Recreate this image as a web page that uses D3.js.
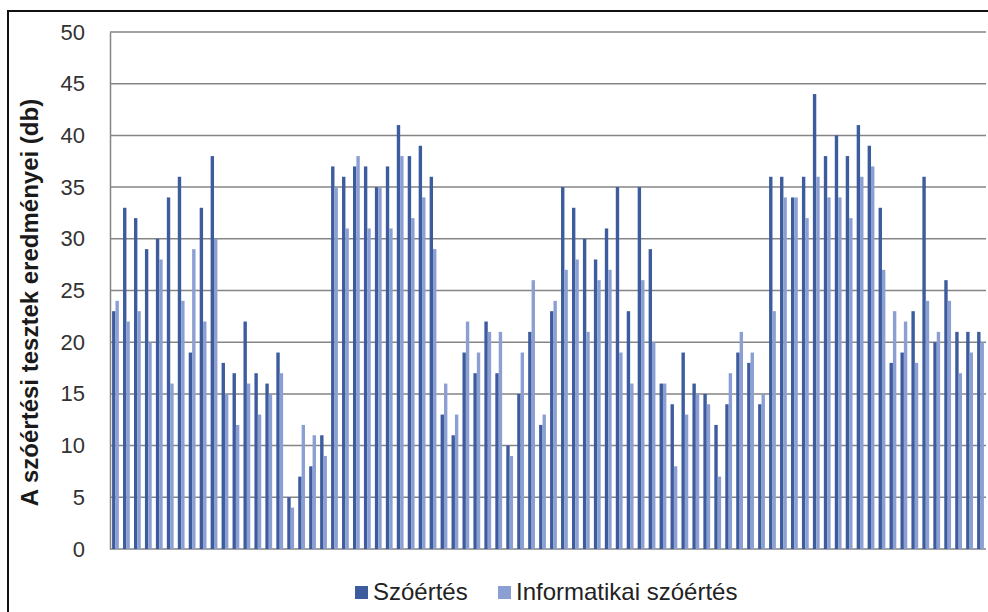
<!DOCTYPE html>
<html>
<head>
<meta charset="utf-8">
<script src="https://cdn.jsdelivr.net/npm/d3@7"></script>
<style>
  body { margin: 0; background: #fff; }
  svg { display: block; font-family: "Liberation Sans", Arial, sans-serif; }
</style>
</head>
<body>
<svg id="chart" width="988" height="612"></svg>
<script>
// test results per student (80 students, no labels on the x axis)
const szoertes = [
  23, 33, 32, 29, 30, 34, 36, 19, 33, 38, 18, 17, 22,
  17, 16, 19, 5, 7, 8, 11, 37, 36, 37, 37, 35, 37, 41,
  38, 39, 36, 13, 11, 19, 17, 22, 17, 10, 15, 21, 12,
  23, 35, 33, 30, 28, 31, 35, 23, 35, 29, 16, 14, 19,
  16, 15, 12, 14, 19, 18, 14, 36, 36, 34, 36, 44, 38,
  40, 38, 41, 39, 33, 18, 19, 23, 36, 20, 26, 21, 21, 21
];
const informatikai = [
  24, 22, 23, 20, 28, 16, 24, 29, 22, 30, 15, 12, 16,
  13, 15, 17, 4, 12, 11, 9, 35, 31, 38, 31, 35, 31, 38,
  32, 34, 29, 16, 13, 22, 19, 21, 21, 9, 19, 26, 13,
  24, 27, 28, 21, 26, 27, 19, 16, 26, 20, 16, 8, 13,
  15, 14, 7, 17, 21, 19, 15, 23, 34, 34, 32, 36, 34,
  34, 32, 36, 37, 27, 23, 22, 18, 24, 21, 24, 17, 19, 20
];
const students = d3.range(1, szoertes.length + 1);
const seriesNames = ["Szóértés", "Informatikai szóértés"];
const seriesColors = ["#3d5c9e", "#8b9fd2"];
const yTicks = [0, 5, 10, 15, 20, 25, 30, 35, 40, 45, 50];
const yTitle = "A szóértési tesztek eredményei (db)";

const svg = d3.select("#chart");
const plot = { left: 110, right: 986, top: 32, bottom: 549 };

// outer frame of the chart
svg.append("rect")
  .attr("x", 8).attr("y", 11)
  .attr("width", 1000).attr("height", 640)
  .attr("fill", "none").attr("stroke", "#111").attr("stroke-width", 2);

const x = d3.scaleBand()
  .domain(students)
  .range([plot.left, plot.right])
  .paddingInner(0.38)
  .paddingOuter(0.19);

const xSeries = d3.scaleBand()
  .domain(seriesNames)
  .range([0, x.bandwidth()]);

const y = d3.scaleLinear()
  .domain([0, 50])
  .range([plot.bottom, plot.top]);

// horizontal gridlines
svg.append("g")
  .selectAll("line")
  .data(yTicks)
  .join("line")
  .attr("x1", plot.left).attr("x2", plot.right)
  .attr("y1", d => y(d)).attr("y2", d => y(d))
  .attr("stroke", "#858585").attr("stroke-width", 1.5);

// bars
const rows = students.map((s, i) => ({ s, values: [szoertes[i], informatikai[i]] }));
svg.append("g")
  .selectAll("g")
  .data(rows)
  .join("g")
  .attr("transform", d => `translate(${x(d.s)},0)`)
  .selectAll("rect")
  .data(d => d.values.map((v, k) => ({ name: seriesNames[k], v, k })))
  .join("rect")
  .attr("x", d => xSeries(d.name))
  .attr("width", xSeries.bandwidth())
  .attr("y", d => y(d.v))
  .attr("height", d => y(0) - y(d.v))
  .attr("fill", d => seriesColors[d.k]);

// y axis
const yAxis = d3.axisLeft(y).tickValues(yTicks).tickSize(0).tickPadding(25);
const gy = svg.append("g")
  .attr("transform", `translate(${plot.left},0)`)
  .call(yAxis);
gy.select(".domain").attr("stroke", "#858585").attr("stroke-width", 1.5);
gy.selectAll("text")
  .attr("font-size", 22)
  .attr("fill", "#333")
  .attr("font-family", "'Liberation Sans', Arial, sans-serif");

svg.append("text")
  .attr("transform", `translate(38,${(plot.top + plot.bottom) / 2 + 12}) rotate(-90)`)
  .attr("text-anchor", "middle")
  .attr("font-size", 24)
  .attr("font-weight", "bold")
  .attr("fill", "#1a1a1a")
  .text(yTitle);

// legend
const legendX = [355, 498];
const legend = svg.append("g")
  .selectAll("g")
  .data(seriesNames)
  .join("g")
  .attr("transform", (d, i) => `translate(${legendX[i]},586)`);
legend.append("rect")
  .attr("width", 13).attr("height", 13)
  .attr("fill", (d, i) => seriesColors[i]);
legend.append("text")
  .attr("x", 18).attr("y", 14)
  .attr("font-size", 24)
  .attr("fill", "#222")
  .text(d => d);
</script>
</body>
</html>
